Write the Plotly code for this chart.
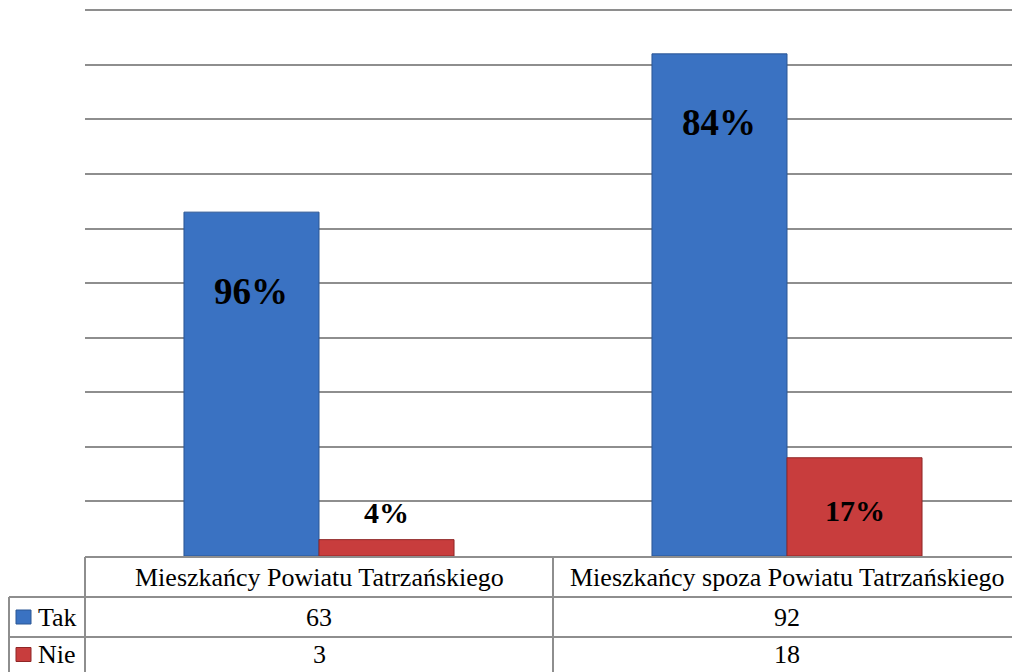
import plotly.graph_objects as go

# ---- data ----
categories = ["Mieszkańcy Powiatu Tatrzańskiego", "Mieszkańcy spoza Powiatu Tatrzańskiego"]
series_names = ["Tak", "Nie"]
tak_values = [63, 92]
nie_values = [3, 18]
tak_labels = ["96%", "84%"]
nie_labels = ["4%", "17%"]

# ---- styling / layout constants ----
W, H = 1012, 672
L, R, T, B = 85, 0, 8, 116
PW, PH = W - L - R, H - T - B
YMAX = 100.4
BLUE, BLUE_LINE = "#3a72c2", "#2b5694"
RED, RED_LINE = "#c83d3d", "#8f2626"
GRID = "#8e8e8e"
FONT = "Liberation Serif, Times New Roman, serif"
BARGAP = 0.423
CAT_PX = 468  # width of one category in pixels
XMAX = -0.5 + PW / CAT_PX
# label vertical positions (data units), as placed in the original
tak_label_y = [48.4, 79.5]
nie_label_y = [7.9, 8.4]
nie_label_size = 30
tak_label_size = 37


def px(x):
    return (x - L) / PW


def py(y):
    return (H - B - y) / PH


xs = list(range(len(categories)))
fig = go.Figure()
fig.add_bar(x=xs, y=tak_values, name=series_names[0],
            marker=dict(color=BLUE, line=dict(color=BLUE_LINE, width=1)))
fig.add_bar(x=xs, y=nie_values, name=series_names[1],
            marker=dict(color=RED, line=dict(color=RED_LINE, width=1)))

bw = (1 - BARGAP) / 2
annotations = []
for i in xs:
    annotations.append(dict(x=i - bw / 2, y=tak_label_y[i], xref="x", yref="y",
                            xanchor="center", yanchor="middle",
                            text=tak_labels[i], showarrow=False,
                            font=dict(family=FONT, size=tak_label_size, color="black", weight="bold")))
    annotations.append(dict(x=i + bw / 2, y=nie_label_y[i], xref="x", yref="y",
                            xanchor="center", yanchor="middle",
                            text=nie_labels[i], showarrow=False,
                            font=dict(family=FONT, size=nie_label_size, color="black", weight="bold")))

# ---- data table under the chart ----
row_top, row1, row2, row_bot = H - B + 1, 597, 637, H
col_edges = [L + CAT_PX * k for k in range(len(categories) + 1)]
shapes = []


def hline(y, x0, x1):
    shapes.append(dict(type="line", xref="paper", yref="paper", x0=px(x0), x1=px(x1),
                       y0=py(y), y1=py(y), line=dict(color=GRID, width=2)))


def vline(x, y0, y1):
    shapes.append(dict(type="line", xref="paper", yref="paper", x0=px(x), x1=px(x),
                       y0=py(y0), y1=py(y1), line=dict(color=GRID, width=2)))


hline(row_top, L, W)
hline(row1, 9, W)
hline(row2, 9, W)
vline(9, row1, row_bot)
for ce in col_edges[:-1]:
    vline(ce, row_top, row_bot)

tfont = dict(family=FONT, size=26, color="black")


def cell_text(x, y, text, anchor="center"):
    annotations.append(dict(x=x, y=y, xref="paper", yref="paper", xanchor=anchor,
                            yanchor="middle", text=text, showarrow=False, font=tfont))


for i, cat in enumerate(categories):
    cx = px(col_edges[i] + CAT_PX / 2)
    cell_text(cx, py((row_top + row1) / 2), cat)
    cell_text(cx, py((row1 + row2) / 2), str(tak_values[i]))
    cell_text(cx, py((row2 + row_bot) / 2), str(nie_values[i]))

# legend keys in table
for name, col, lcol, (ya, yb) in [(series_names[0], BLUE, BLUE_LINE, (row1, row2)),
                                  (series_names[1], RED, RED_LINE, (row2, row_bot))]:
    ym = (ya + yb) / 2
    shapes.append(dict(type="rect", xref="paper", yref="paper", x0=px(16), x1=px(31),
                       y0=py(ym - 7), y1=py(ym + 7), fillcolor=col, line=dict(color=lcol, width=1)))
    cell_text(px(36), py(ym), name, anchor="left")

fig.update_layout(
    width=W, height=H, autosize=False,
    margin=dict(l=L, r=R, t=T, b=B, pad=0, autoexpand=False),
    paper_bgcolor="white", plot_bgcolor="white",
    barmode="group", bargap=BARGAP, bargroupgap=0,
    showlegend=False,
    xaxis=dict(range=[-0.5, XMAX], showticklabels=False, showgrid=False, zeroline=False,
               showline=False, ticks=""),
    yaxis=dict(range=[0, YMAX], dtick=10, showticklabels=False, showgrid=True,
               gridcolor=GRID, gridwidth=2, zeroline=False, showline=False, ticks=""),
    shapes=shapes, annotations=annotations,
)

fig.write_html("out.html", config={"displayModeBar": False},
               post_script="document.body.style.margin='0px';")
